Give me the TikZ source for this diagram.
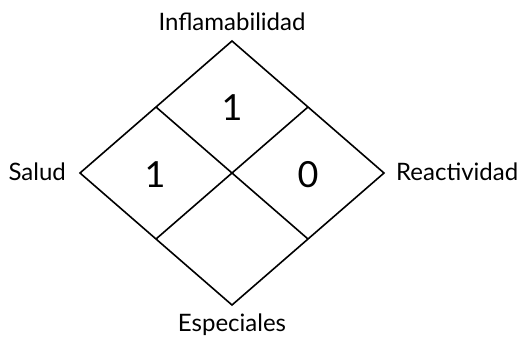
\documentclass[tikz,border=0pt]{standalone}
\usepackage{fontspec}
\setmainfont{Lato}
\usetikzlibrary{calc}
\tikzset{
  rombo/.style={line width=1.6pt, line join=miter},
  etiqueta/.style={font=\fontsize{24}{26}\selectfont, inner sep=0pt},
  valor/.style={font=\fontsize{36}{38}\selectfont, inner sep=0pt, anchor=base}
}

\begin{document}
\begin{tikzpicture}[x=1pt, y=-1pt]
                \useasboundingbox (0,0) rectangle (519,338);
                \coordinate (T) at (232,41);
                \coordinate (L) at (80,173);
                \coordinate (R) at (384,173);
                \coordinate (B) at (232,305);
                \coordinate (C) at (232,173);
                \coordinate (TL) at ($(T)!0.5!(L)$);
                \coordinate (TR) at ($(T)!0.5!(R)$);
                \coordinate (BL) at ($(B)!0.5!(L)$);
                \coordinate (BR) at ($(B)!0.5!(R)$);

                \draw[rombo] (T) -- (R) -- (B) -- (L) -- cycle;
                % upper-left to lower-right
                \draw[rombo] (TL) -- (BR);
                % upper-right to lower-left
                \draw[rombo] (TR) -- (BL);

                \node[etiqueta, anchor=base] (inflamabilidad) at (232,30) {Inflamabilidad};
                \node[etiqueta, anchor=base east] (salud) at (66,180) {Salud};
                \node[etiqueta, anchor=base west] (reactividad) at (396,180) {Reactividad};
                \node[etiqueta, anchor=base] (especiales) at (232,331) {Especiales};

                \node[valor] (inflamabilidadval) at (232,120) {1};
                \node[valor] (saludval) at (155,187) {1};
                \node[valor] (reactividadval) at (308,187) {0};
            \end{tikzpicture}
\end{document}
